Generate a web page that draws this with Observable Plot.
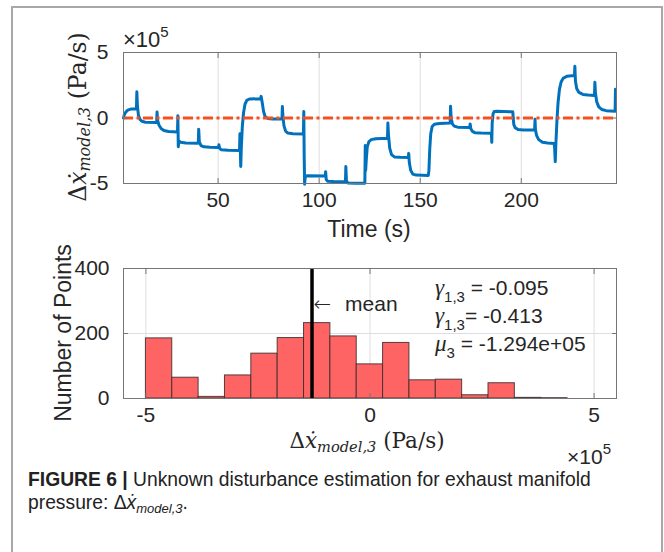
<!DOCTYPE html>
<html>
<head>
<meta charset="utf-8">
<script src="https://cdn.jsdelivr.net/npm/d3@7"></script>
<script src="https://cdn.jsdelivr.net/npm/@observablehq/plot@0.6"></script>
<style>
  body { margin: 0; background: #fff; }
  #fig { position: relative; width: 664px; height: 552px; overflow: hidden;
         font-family: "Liberation Sans", Arial, sans-serif; color: #262626; }
  #fig svg { position: absolute; left: 0; overflow: visible; }
  .abs { position: absolute; white-space: nowrap; line-height: 1; }
  .rot { transform: translate(-50%, -50%) rotate(-90deg); }
  .ctr { transform: translate(-50%, -50%); }
  .tex { font-family: "DejaVu Serif", "Liberation Serif", serif; }
  .tex i { font-style: italic; }
  .tex .sb { font-size: 0.68em; position: relative; top: 0.25em; font-style: italic; }
  .sup { font-size: 15px; position: relative; top: -10px; }
  .stat { font-size: 21px; line-height: 26px; }
  .stat .g { font-family: "Liberation Serif", serif; font-style: italic; font-size: 23px; }
  .stat .sb { font-size: 15px; position: relative; top: 7px; }
  .arrow { font-family: "DejaVu Sans", sans-serif; font-weight: 200; }
  #frameBox { position: absolute; left: 11px; top: 6px; width: 648px; height: 600px;
              border: 2px solid #a8a8a8; border-bottom: none; }
  .cap { font-size: 19.3px; color: #222; }
  .cap b { font-weight: bold; }
  .cap .sb { font-size: 13px; position: relative; top: 4px; font-style: italic; }
</style>
</head>
<body>
<div id="fig"><div id="frameBox"></div></div>
<script>
// Time history of the unknown disturbance estimate (units of 1e5 Pa/s)
const timeS = [
  3.2, 3.6, 4.3, 5.3, 6.8, 9.6, 9.8, 10.1, 10.6, 11.3, 12.3, 14.0, 19.6, 19.8, 20.1, 20.8,
  21.8, 23.2, 25.5, 29.9, 30.1, 30.3, 30.6, 31.5, 34.0, 40.2, 40.4, 40.7, 41.5, 43.0, 46.0,
  50.2, 50.4, 50.7, 51.5, 55.0, 60.6, 60.8, 61.0, 61.2, 61.5, 62.0, 62.6, 63.3, 64.2, 65.5,
  71.0, 71.3, 71.8, 72.5, 73.3, 74.5, 77.0, 81.6, 81.8, 82.1, 82.6, 83.4, 84.5, 87.0, 92.2,
  92.4, 92.6, 92.8, 93.1, 94.0, 103.0, 103.2, 103.5, 104.2, 107.0, 113.0, 113.2, 113.5,
  114.2, 118.0, 122.6, 122.8, 123.0, 123.3, 123.8, 124.6, 125.8, 128.0, 133.8, 134.0, 134.3,
  134.9, 135.8, 137.2, 140.0, 144.1, 144.3, 144.6, 145.3, 146.3, 148.0, 154.0, 154.3, 154.7,
  155.2, 155.9, 157.0, 159.5, 164.8, 165.0, 165.3, 165.9, 166.8, 168.5, 174.5, 174.7, 175.0,
  175.8, 177.0, 180.0, 185.2, 185.4, 185.6, 186.0, 186.6, 188.0, 195.8, 196.0, 196.3, 197.0,
  198.3, 201.0, 206.6, 206.8, 207.0, 207.6, 208.6, 210.5, 213.0, 216.3, 216.5, 216.8, 217.1,
  217.6, 218.2, 218.9, 219.7, 220.8, 222.5, 226.3, 226.5, 226.8, 227.4, 228.5, 230.5, 233.0,
  236.2, 236.4, 236.7, 237.3, 238.3, 239.8, 242.0, 246.4, 246.6
];
const dxModel3 = [
  0.0, 0.25, 0.45, 0.6, 0.68, 0.7, 2.0, 0.9, 0.2, -0.1, -0.25, -0.32, -0.35, 0.45, -0.2, -0.55,
  -0.8, -0.95, -1.03, -1.07, 0.18, -2.2, -1.75, -1.85, -1.9, -1.92, -0.85, -1.8, -2.1, -2.2, -2.23,
  -2.25, -2.05, -2.3, -2.42, -2.47, -2.48, -1.2, -2.5, -3.7, -2.2, -0.6, 0.4, 1.05, 1.35, 1.45,
  1.47, 1.65, 1.2, 0.5, 0.1, -0.03, -0.07, -0.08, 0.87, 0.1, -0.6, -1.0, -1.15, -1.2, -1.22,
  0.5, -3.0, -5.05, -4.5, -4.4, -4.42, -4.1, -4.7, -4.82, -4.85, -4.86, -3.7, -4.8,
  -4.96, -4.98, -4.98, -2.1, -4.0, -3.2, -2.2, -1.8, -1.65, -1.58, -1.55, -0.38, -1.3,
  -2.3, -2.8, -2.97, -3.0, -3.02, -2.7, -3.4, -4.0, -4.28, -4.36, -4.38, -4.0, -2.4,
  -1.2, -0.65, -0.47, -0.42, -0.38, 0.9, 0.0, -0.45, -0.62, -0.7, -0.72, -0.46, -0.8,
  -1.02, -1.12, -1.15, -1.16, -1.86, -0.4, 0.3, 0.5, 0.52, 0.47, 0.0, -0.5, -0.75,
  -0.87, -0.91, -0.92, -0.1, -0.9, -1.35, -1.65, -1.85, -1.9, -1.94, -2.3, -3.34, -2.0,
  -0.3, 1.2, 2.2, 2.75, 3.05, 3.18, 3.24, 3.95, 2.8, 2.25, 1.95, 1.8, 1.75,
  1.71, 2.73, 1.9, 1.25, 0.85, 0.65, 0.56, 0.51, 2.2
];

// Histogram of the estimate (bin edges in units of 1e5 Pa/s)
const binEdges = [-5.0, -4.412, -3.824, -3.236, -2.648, -2.06, -1.472, -0.884, -0.296,
                  0.292, 0.88, 1.468, 2.056, 2.644, 3.232, 3.82, 4.408];
const binCounts = [185, 64, 5, 71, 138, 186, 232, 191, 105, 171, 56, 58, 10, 47, 2, 1];

// Summary statistics printed beside the histogram
const gamma13a = -0.095;
const gamma13b = -0.413;
const meanValue = -1.294e5;  // Pa/s
const scaleFactor = 1e5;

// Tick values
const timeTicks = [50, 100, 150, 200];
const levelTicks = [-5, 0, 5];
const countTicks = [0, 200, 400];
const binTicks = [-5, 0, 5];

const series = timeS.map((t, i) => ({t, v: dxModel3[i]}));
const bins = binCounts.map((c, i) => ({x1: binEdges[i], x2: binEdges[i + 1], count: c}));

const fig = document.getElementById("fig");
const axisColor = "#767676";
const gridColor = "#dedede";
const fmt = d => String(d);

const baseStyle = {fontFamily: "Liberation Sans, Arial, sans-serif", fontSize: "21px",
                   color: "#262626", background: "transparent"};

// Upper panel: disturbance estimate over time
const topPlot = Plot.plot({
  width: 664, height: 240,
  marginLeft: 123, marginRight: 48, marginTop: 52, marginBottom: 57,
  style: baseStyle,
  x: {domain: [3.2, 247.1]},
  y: {domain: [-5, 5]},
  marks: [
    Plot.gridX(timeTicks, {stroke: gridColor, strokeOpacity: 1}),
    Plot.gridY(levelTicks, {stroke: gridColor, strokeOpacity: 1}),
    Plot.line(series, {x: "t", y: "v", stroke: "#0072bd", strokeWidth: 3, strokeLinejoin: "round"}),
    Plot.ruleY([0], {stroke: "#f4511e", strokeWidth: 3, strokeDasharray: "10,3.5,3,3.5"}),
    Plot.axisX(timeTicks, {anchor: "bottom", tickSize: -5, tickPadding: 14, stroke: axisColor, label: null, tickFormat: fmt}),
    Plot.axisX(timeTicks, {anchor: "top", tickSize: -5, stroke: axisColor, fill: "none", label: null}),
    Plot.axisY(levelTicks, {anchor: "left", tickSize: -5, tickPadding: 20, stroke: axisColor, label: null, tickFormat: fmt}),
    Plot.axisY(levelTicks, {anchor: "right", tickSize: -5, stroke: axisColor, fill: "none", label: null}),
    Plot.frame({stroke: axisColor})
  ]
});
topPlot.style.top = "0px";
fig.appendChild(topPlot);

// Lower panel: histogram of the estimate with its mean
const histPlot = Plot.plot({
  width: 664, height: 200,
  marginLeft: 123, marginRight: 48, marginTop: 28, marginBottom: 42,
  style: baseStyle,
  x: {domain: [-5.5, 5.5]},
  y: {domain: [0, 400]},
  marks: [
    Plot.gridX(binTicks, {stroke: gridColor, strokeOpacity: 1}),
    Plot.gridY(countTicks, {stroke: gridColor, strokeOpacity: 1}),
    Plot.rectY(bins, {x1: "x1", x2: "x2", y: "count", fill: "#ff6464", stroke: "#3a2a2a", strokeOpacity: 0.85, strokeWidth: 1}),
    Plot.ruleX([meanValue / scaleFactor], {stroke: "#000", strokeWidth: 3.5}),
    Plot.axisX(binTicks, {anchor: "bottom", tickSize: -5, tickPadding: 14, stroke: axisColor, label: null, tickFormat: fmt}),
    Plot.axisX(binTicks, {anchor: "top", tickSize: -5, stroke: axisColor, fill: "none", label: null}),
    Plot.axisY(countTicks, {anchor: "left", tickSize: -5, tickPadding: 19, stroke: axisColor, label: null, tickFormat: fmt}),
    Plot.axisY(countTicks, {anchor: "right", tickSize: -5, stroke: axisColor, fill: "none", label: null}),
    Plot.frame({stroke: axisColor})
  ]
});
const histTop = 240;
histPlot.style.top = histTop + "px";
fig.appendChild(histPlot);

function addText(html, cls, left, top) {
  const el = document.createElement("div");
  el.className = "abs " + cls;
  el.style.left = left + "px";
  el.style.top = top + "px";
  el.innerHTML = html;
  fig.appendChild(el);
  return el;
}

const texLabel = 'Δ<i>x&#775;</i><span class="sb">model,3</span> (Pa/s)';
const expLabel = '×10<span class="sup">5</span>';
const expText = v => {
  const [m, e] = v.toExponential(3).split("e");
  const sign = e[0] === "-" ? "-" : "+";
  const digits = e.replace(/[+-]/, "").padStart(2, "0");
  return `${m}e${sign}${digits}`;
};

// Axis labels and exponent markers
addText(expLabel, "", 123, 29).style.fontSize = "22px";
addText("Time (s)", "ctr", 369, 229).style.fontSize = "23px";
addText(texLabel, "tex rot", 79, 117).style.fontSize = "23.5px";
addText("Number of Points", "rot", 63, 333).style.fontSize = "23px";
addText(texLabel, "tex ctr", 367, 441).style.fontSize = "21.5px";
addText(expLabel, "", 567, 446).style.fontSize = "21px";

// Annotations inside the histogram
const xs = histPlot.scale("x");
const ys = histPlot.scale("y");
const meanX = xs.apply(meanValue / scaleFactor);
const meanY = histTop + ys.apply(300);
const meanLbl = addText('<span class="arrow">←</span><span style="margin-left:14px">mean</span>', "", meanX + 2, meanY - 8);
meanLbl.style.fontSize = "21px";

addText(
  `<div><span class="g">γ</span><span class="sb">1,3</span> = ${gamma13a.toFixed(3)}</div>` +
  `<div><span class="g">γ</span><span class="sb">1,3</span>= ${gamma13b.toFixed(3)}</div>` +
  `<div><span class="g">μ</span><span class="sb">3</span> = ${expText(meanValue)}</div>`,
  "stat", 435, 275);

// Figure caption
addText('<b>FIGURE 6 |</b> Unknown disturbance estimation for exhaust manifold', "cap", 28, 470);
addText('pressure: Δ<i>x&#775;</i><span class="sb">model,3</span>.', "cap", 28, 493);
</script>
</body>
</html>
